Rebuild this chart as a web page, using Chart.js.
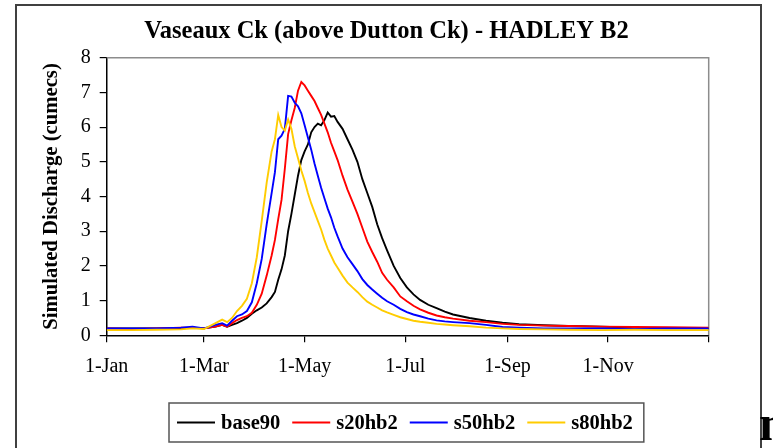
<!DOCTYPE html>
<html>
<head>
<meta charset="utf-8">
<script src="https://cdn.jsdelivr.net/npm/chart.js@4.4.1/dist/chart.umd.min.js"></script>
<style>
  html, body { margin: 0; padding: 0; background: #fff; }
  #wrap { width: 773px; height: 448px; }
</style>
</head>
<body>
<div id="wrap"><canvas id="chart" width="773" height="448"></canvas></div>
<script>
/* ---------- datos (día del año -> caudal simulado, cumecs) ---------- */
const dias = [0, 15, 30, 45, 52, 59, 66, 70, 73, 76, 79, 82, 85, 88, 91, 94, 97, 100, 102, 104,
  106, 108, 110, 112, 114, 116, 118, 120, 122, 124, 126, 128, 130, 132, 134, 136, 138, 140, 143, 146,
  149, 152, 155, 158, 161, 164, 167, 170, 174, 178, 182, 186, 190, 195, 200, 205, 210, 220, 230, 240,
  250, 265, 280, 300, 320, 340, 365];

const base90 = [0.2, 0.2, 0.2, 0.2, 0.22, 0.2, 0.25, 0.3, 0.25, 0.3, 0.35, 0.42, 0.5, 0.62, 0.72, 0.8, 0.92, 1.1, 1.25, 1.6,
  1.9, 2.3, 3.0, 3.5, 4.05, 4.6, 5.05, 5.3, 5.5, 5.85, 6.0, 6.1, 6.05, 6.2, 6.42, 6.3, 6.32, 6.15, 5.95, 5.65,
  5.35, 5.0, 4.5, 4.1, 3.7, 3.2, 2.8, 2.45, 2.0, 1.65, 1.38, 1.18, 1.02, 0.88, 0.78, 0.68, 0.6, 0.5, 0.42, 0.36,
  0.32, 0.29, 0.27, 0.25, 0.22, 0.2, 0.2];

const s20hb2 = [0.2, 0.18, 0.2, 0.22, 0.22, 0.2, 0.25, 0.3, 0.25, 0.35, 0.44, 0.5, 0.55, 0.65, 0.88, 1.2, 1.72, 2.3, 2.75, 3.35,
  3.9, 4.8, 5.8, 6.2, 6.55, 7.05, 7.3, 7.2, 7.05, 6.9, 6.75, 6.55, 6.35, 6.1, 5.85, 5.55, 5.3, 5.05, 4.6, 4.2,
  3.85, 3.5, 3.1, 2.7, 2.4, 2.12, 1.8, 1.6, 1.38, 1.12, 0.98, 0.85, 0.75, 0.65, 0.57, 0.52, 0.48, 0.42, 0.38, 0.33,
  0.3, 0.28, 0.27, 0.25, 0.24, 0.23, 0.22];

const s50hb2 = [0.2, 0.2, 0.2, 0.22, 0.25, 0.2, 0.3, 0.35, 0.28, 0.42, 0.55, 0.6, 0.7, 0.95, 1.5, 2.2, 3.2, 4.1, 4.7, 5.65,
  5.75, 5.95, 6.9, 6.88, 6.7, 6.6, 6.4, 6.05, 5.7, 5.35, 4.95, 4.6, 4.25, 3.95, 3.65, 3.4, 3.1, 2.85, 2.5, 2.25,
  2.05, 1.85, 1.62, 1.45, 1.32, 1.2, 1.08, 0.98, 0.88, 0.76, 0.67, 0.6, 0.55, 0.48, 0.43, 0.4, 0.38, 0.35, 0.3, 0.24,
  0.22, 0.2, 0.2, 0.2, 0.18, 0.2, 0.2];

const s80hb2 = [0.15, 0.15, 0.16, 0.17, 0.2, 0.18, 0.35, 0.45, 0.38, 0.5, 0.7, 0.85, 1.05, 1.5, 2.25, 3.3, 4.4, 5.3, 5.65, 6.35,
  6.0, 5.9, 6.22, 5.95, 5.45, 5.1, 4.75, 4.45, 4.1, 3.8, 3.55, 3.3, 3.05, 2.75, 2.5, 2.3, 2.1, 1.95, 1.72, 1.52,
  1.38, 1.25, 1.1, 0.97, 0.88, 0.8, 0.72, 0.66, 0.59, 0.52, 0.47, 0.42, 0.39, 0.36, 0.33, 0.31, 0.29, 0.26, 0.22, 0.2,
  0.18, 0.17, 0.16, 0.15, 0.16, 0.15, 0.15];

const nombresSeries = ['base90', 's20hb2', 's50hb2', 's80hb2'];
const coloresSeries = ['#000000', '#ff0000', '#0000ff', '#ffcc00'];
const valoresSeries = [base90, s20hb2, s50hb2, s80hb2];

const xTickDias = [0, 59, 120, 181, 243, 304, 365];
const xTickEtiquetas = ['1-Jan', '1-Mar', '1-May', '1-Jul', '1-Sep', '1-Nov', ''];

const titulo = 'Vaseaux Ck (above Dutton Ck) - HADLEY B2';
const tituloEjeY = 'Simulated Discharge (cumecs)';

/* ---------- estilos ---------- */
const SERIF = '"Liberation Serif", "Times New Roman", serif';
Chart.defaults.font.family = SERIF;
Chart.defaults.color = '#000';

/* marco del área de trazado (gris arriba y a la derecha) */
const marcoArea = {
  id: 'marcoArea',
  beforeDatasetsDraw(chart) {
    const { ctx, chartArea: a } = chart;
    ctx.save();
    ctx.strokeStyle = '#8c8c8c';
    ctx.lineWidth = 1.5;
    ctx.beginPath();
    ctx.moveTo(a.left, a.top);
    ctx.lineTo(a.right, a.top);
    ctx.lineTo(a.right, a.bottom);
    ctx.stroke();
    ctx.restore();
  }
};

/* leyenda con recuadro + marco exterior */
const leyendaYMarco = {
  id: 'leyendaYMarco',
  afterDraw(chart) {
    const { ctx, chartArea: a } = chart;
    const ds = chart.data.datasets;
    ctx.save();

    // marco exterior de la figura
    ctx.strokeStyle = '#404040';
    ctx.lineWidth = 2;
    ctx.beginPath();
    ctx.moveTo(16, 448);
    ctx.lineTo(16, 5);
    ctx.lineTo(761, 5);
    ctx.lineTo(761, 448);
    ctx.stroke();

    // leyenda
    ctx.font = 'bold 20.5px ' + SERIF;
    const muestra = 38, hueco = 6, sep = 12, padL = 8, padR = 11;
    const anchos = ds.map(d => ctx.measureText(d.label).width);
    const total = anchos.reduce((s, w) => s + muestra + hueco + w, 0) + sep * (ds.length - 1);
    const w = total + padL + padR, h = 39;
    const left = Math.round((a.left + a.right) / 2 - w / 2 - 1.5), top = 403;
    ctx.fillStyle = '#fff';
    ctx.fillRect(left, top, w, h);
    ctx.strokeStyle = '#555';
    ctx.lineWidth = 1.5;
    ctx.strokeRect(left, top, w, h);
    let x = left + padL;
    const cy = top + h / 2;
    ctx.textBaseline = 'middle';
    ds.forEach((d, i) => {
      ctx.strokeStyle = d.borderColor;
      ctx.lineWidth = 2;
      ctx.beginPath();
      ctx.moveTo(x, cy);
      ctx.lineTo(x + muestra, cy);
      ctx.stroke();
      x += muestra + hueco;
      ctx.fillStyle = '#000';
      ctx.fillText(d.label, x, cy + 1);
      x += anchos[i] + sep;
    });

    // resto de letra recortada en la esquina
    ctx.font = 'bold 50px ' + SERIF;
    ctx.textBaseline = 'alphabetic';
    ctx.fillText('n', 759, 440);
    ctx.restore();
  }
};

/* ---------- gráfico ---------- */
const ctx = document.getElementById('chart').getContext('2d');
new Chart(ctx, {
  type: 'line',
  data: {
    datasets: nombresSeries.map((nombre, i) => ({
      label: nombre,
      data: dias.map((d, j) => ({ x: d, y: valoresSeries[i][j] })),
      borderColor: coloresSeries[i],
      backgroundColor: coloresSeries[i],
      borderWidth: 1.9,
      pointRadius: 0,
      tension: 0,
      fill: false,
      order: nombresSeries.length - i,
    })),
  },
  options: {
    responsive: false,
    animation: false,
    devicePixelRatio: 1,
    layout: { padding: { left: 0, right: 0, top: 0, bottom: 448 - 335.3 - 43 } },
    plugins: {
      legend: { display: false },
      tooltip: { enabled: false },
      title: {
        display: true,
        text: titulo,
        color: '#000',
        font: { size: 24.5, weight: 'bold', family: SERIF, lineHeight: 1.2 },
        padding: { top: 17.3, bottom: 11 },
      },
    },
    scales: {
      x: {
        type: 'linear',
        min: 0,
        max: 365,
        afterBuildTicks: s => { s.ticks = xTickDias.map(v => ({ value: v })); },
        afterFit: s => { s.height = 43; },
        ticks: {
          autoSkip: false,
          maxRotation: 0,
          padding: 12,
          color: '#000',
          font: { size: 20, family: SERIF },
          callback: (v, i) => xTickEtiquetas[i],
        },
        grid: { drawOnChartArea: false, tickLength: 7, color: '#000', lineWidth: 1.2 },
        border: { color: '#000', width: 1.5 },
      },
      y: {
        min: 0,
        max: 8,
        afterFit: s => { s.width = 106.7; },
        ticks: {
          stepSize: 1,
          padding: 9,
          color: '#000',
          font: { size: 20, family: SERIF },
        },
        grid: { drawOnChartArea: false, tickLength: 7, color: '#000', lineWidth: 1.2 },
        border: { color: '#000', width: 1.5 },
        title: {
          display: true,
          text: tituloEjeY,
          color: '#000',
          font: { size: 20.7, weight: 'bold', family: SERIF, lineHeight: 1.2 },
          padding: { top: 39.6, bottom: 0 },
        },
      },
      yDer: {
        position: 'right',
        display: true,
        afterFit: s => { s.width = 773 - 708.7; },
        ticks: { display: false },
        grid: { display: false },
        border: { display: false },
      },
    },
  },
  plugins: [marcoArea, leyendaYMarco],
});
</script>
</body>
</html>
